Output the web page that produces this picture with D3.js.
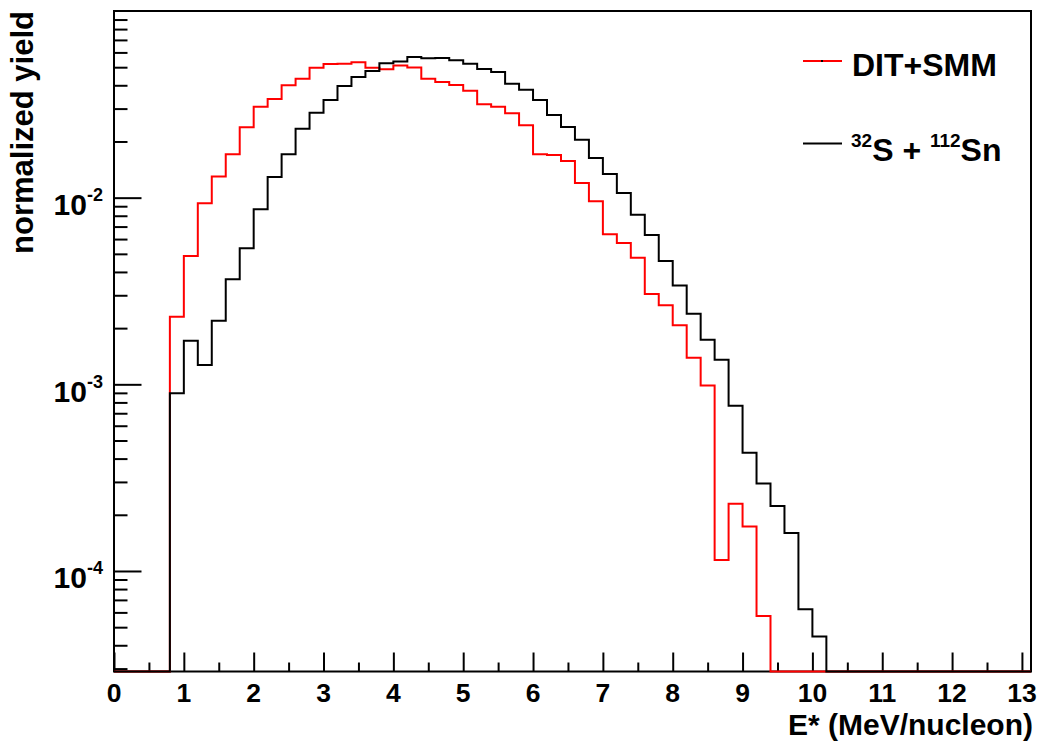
<!DOCTYPE html>
<html>
<head>
<meta charset="utf-8">
<script src="https://cdn.jsdelivr.net/npm/d3@7"></script>
<style>
  html, body { margin: 0; padding: 0; background: #fff; }
  svg text { font-family: "Liberation Sans", Arial, Helvetica, sans-serif; font-weight: bold; fill: #000; }
</style>
</head>
<body>
<svg id="chart" width="1041" height="747"></svg>
<script>
// ---- data ----
const binStarts = [0.8, 1.0, 1.2, 1.4, 1.6, 1.8, 2.0, 2.2, 2.4, 2.6, 2.8, 3.0, 3.2, 3.4, 3.6, 3.8,
  4.0, 4.2, 4.4, 4.6, 4.8, 5.0, 5.2, 5.4, 5.6, 5.8, 6.0, 6.2, 6.4, 6.6, 6.8, 7.0, 7.2, 7.4,
  7.6, 7.8, 8.0, 8.2, 8.4, 8.6, 8.8, 9.0, 9.2, 9.4, 9.6, 9.8, 10.0];
const binWidth = 0.2;

const ditSmm = [2.30e-3, 4.87e-3, 9.33e-3, 0.0130, 0.0171, 0.0238, 0.0307, 0.0338, 0.0400, 0.0434,
  0.0497, 0.0520, 0.0522, 0.0531, 0.0497, 0.0487, 0.0510, 0.0498, 0.0434, 0.0416, 0.0402, 0.0374,
  0.0317, 0.0307, 0.0283, 0.0244, 0.0171, 0.0169, 0.0157, 0.0120, 9.58e-3, 6.37e-3, 5.72e-3,
  4.77e-3, 3.05e-3, 2.65e-3, 2.07e-3, 1.39e-3, 9.86e-4, 1.145e-4, 2.29e-4, 1.73e-4, 5.74e-5,
  0, 0, 0, 0];

const sSn = [8.95e-4, 1.71e-3, 1.27e-3, 2.19e-3, 3.65e-3, 5.36e-3, 8.67e-3, 0.0129, 0.0171, 0.0234,
  0.0285, 0.0334, 0.0397, 0.0443, 0.0477, 0.0525, 0.0537, 0.0567, 0.0558, 0.0560, 0.0545, 0.0522,
  0.0489, 0.0471, 0.0407, 0.0378, 0.0334, 0.0277, 0.0239, 0.0204, 0.0163, 0.0134, 0.0106,
  8.11e-3, 6.31e-3, 4.58e-3, 3.38e-3, 2.39e-3, 1.735e-3, 1.355e-3, 7.67e-4, 4.30e-4, 2.94e-4,
  2.23e-4, 1.60e-4, 6.23e-5, 4.45e-5];

const xTickLabels = [0, 1, 2, 3, 4, 5, 6, 7, 8, 9, 10, 11, 12, 13];
const yTickLabels = [1e-4, 1e-3, 1e-2];
const xDomain = [0, 13.13];
const yDomain = [2.894e-5, 0.1];

// ---- layout ----
const L = 114, R = 1031, T = 11, B = 671.5;
const svg = d3.select("#chart");
const x = d3.scaleLinear().domain(xDomain).range([L, R]);
const y = d3.scaleLog().domain(yDomain).range([B, T]);

svg.append("defs").append("clipPath").attr("id", "clip")
  .append("rect").attr("x", L).attr("y", T).attr("width", R - L).attr("height", B - T + 2);

// ---- axes ----
const xMinor = d3.range(0.5, 13.2, 1);
const xAxisMajor = d3.axisBottom(x).tickValues(xTickLabels).tickSizeInner(-19).tickSizeOuter(0).tickFormat("");
const xAxisMinor = d3.axisBottom(x).tickValues(xMinor).tickSizeInner(-9).tickSizeOuter(0).tickFormat("");
svg.append("g").attr("transform", `translate(0,${B})`).call(xAxisMinor)
  .call(g => g.select(".domain").remove())
  .selectAll("line").attr("stroke", "#000").attr("stroke-width", 2);
svg.append("g").attr("transform", `translate(0,${B})`).call(xAxisMajor)
  .call(g => g.select(".domain").remove())
  .selectAll("line").attr("stroke", "#000").attr("stroke-width", 2);

svg.append("g").selectAll("text").data(xTickLabels).join("text")
  .attr("x", d => x(d)).attr("y", 702)
  .attr("text-anchor", "middle").attr("font-size", 26.5)
  .text(d => d);

const yMinor = [];
[1e-5, 1e-4, 1e-3, 1e-2].forEach(dec => {
  for (let k = 2; k <= 9; k++) {
    const v = k * dec;
    if (v >= yDomain[0] && v <= yDomain[1]) yMinor.push(v);
  }
});
const yAxisMajor = d3.axisLeft(y).tickValues(yTickLabels).tickSizeInner(-27.5).tickSizeOuter(0).tickFormat("");
const yAxisMinor = d3.axisLeft(y).tickValues(yMinor).tickSizeInner(-13.5).tickSizeOuter(0).tickFormat("");
svg.append("g").attr("transform", `translate(${L},0)`).call(yAxisMinor)
  .call(g => g.select(".domain").remove())
  .selectAll("line").attr("stroke", "#000").attr("stroke-width", 2);
svg.append("g").attr("transform", `translate(${L},0)`).call(yAxisMajor)
  .call(g => g.select(".domain").remove())
  .selectAll("line").attr("stroke", "#000").attr("stroke-width", 2);

const yl = svg.append("g").selectAll("text").data(yTickLabels).join("text")
  .attr("x", 103).attr("y", d => y(d) + 17.5)
  .attr("text-anchor", "end").attr("font-size", 30);
yl.append("tspan").text("10");
yl.append("tspan").attr("font-size", 18).attr("dy", -14)
  .text(d => String(Math.round(Math.log10(d))));

// frame
svg.append("rect").attr("x", L).attr("y", T).attr("width", R - L).attr("height", B - T)
  .attr("fill", "none").attr("stroke", "#000").attr("stroke-width", 2);

// ---- histograms ----
function stepPoints(values) {
  const pts = [[xDomain[0], yDomain[0]], [binStarts[0], yDomain[0]]];
  values.forEach((v, i) => {
    const vv = Math.max(v, yDomain[0]);
    pts.push([binStarts[i], vv]);
    pts.push([binStarts[i] + binWidth, vv]);
  });
  pts.push([binStarts[binStarts.length - 1] + binWidth, yDomain[0]]);
  pts.push([xDomain[1], yDomain[0]]);
  return pts;
}
const line = d3.line().x(d => x(d[0])).y(d => y(d[1]));
const plot = svg.append("g").attr("clip-path", "url(#clip)");
plot.append("path").attr("d", line(stepPoints(ditSmm)))
  .attr("fill", "none").attr("stroke", "#ff0000").attr("stroke-width", 2);
plot.append("path").attr("d", line(stepPoints(sSn)))
  .attr("fill", "none").attr("stroke", "#000").attr("stroke-width", 2);

// ---- titles ----
svg.append("text").attr("x", 1033).attr("y", 735).attr("text-anchor", "end")
  .attr("font-size", 30).text("E* (MeV/nucleon)");
svg.append("text").attr("transform", "translate(33,11) rotate(-90)").attr("text-anchor", "end")
  .attr("font-size", 31).text("normalized yield");

// ---- legend ----
const legend = svg.append("g");
legend.append("line").attr("x1", 803).attr("x2", 842).attr("y1", 61).attr("y2", 61)
  .attr("stroke", "#ff0000").attr("stroke-width", 2);
legend.append("rect").attr("x", 821).attr("y", 60).attr("width", 2).attr("height", 2).attr("fill", "#000");
legend.append("text").attr("x", 852).attr("y", 76).attr("font-size", 32).text("DIT+SMM");

legend.append("line").attr("x1", 803).attr("x2", 842).attr("y1", 143.5).attr("y2", 143.5)
  .attr("stroke", "#000").attr("stroke-width", 2);
const t2 = legend.append("text").attr("x", 851).attr("y", 161).attr("font-size", 32);
t2.append("tspan").attr("font-size", 19).attr("dy", -14).text("32");
t2.append("tspan").attr("dy", 14).text("S + ");
t2.append("tspan").attr("font-size", 19).attr("dy", -14).text("112");
t2.append("tspan").attr("dy", 14).text("Sn");
</script>
</body>
</html>
